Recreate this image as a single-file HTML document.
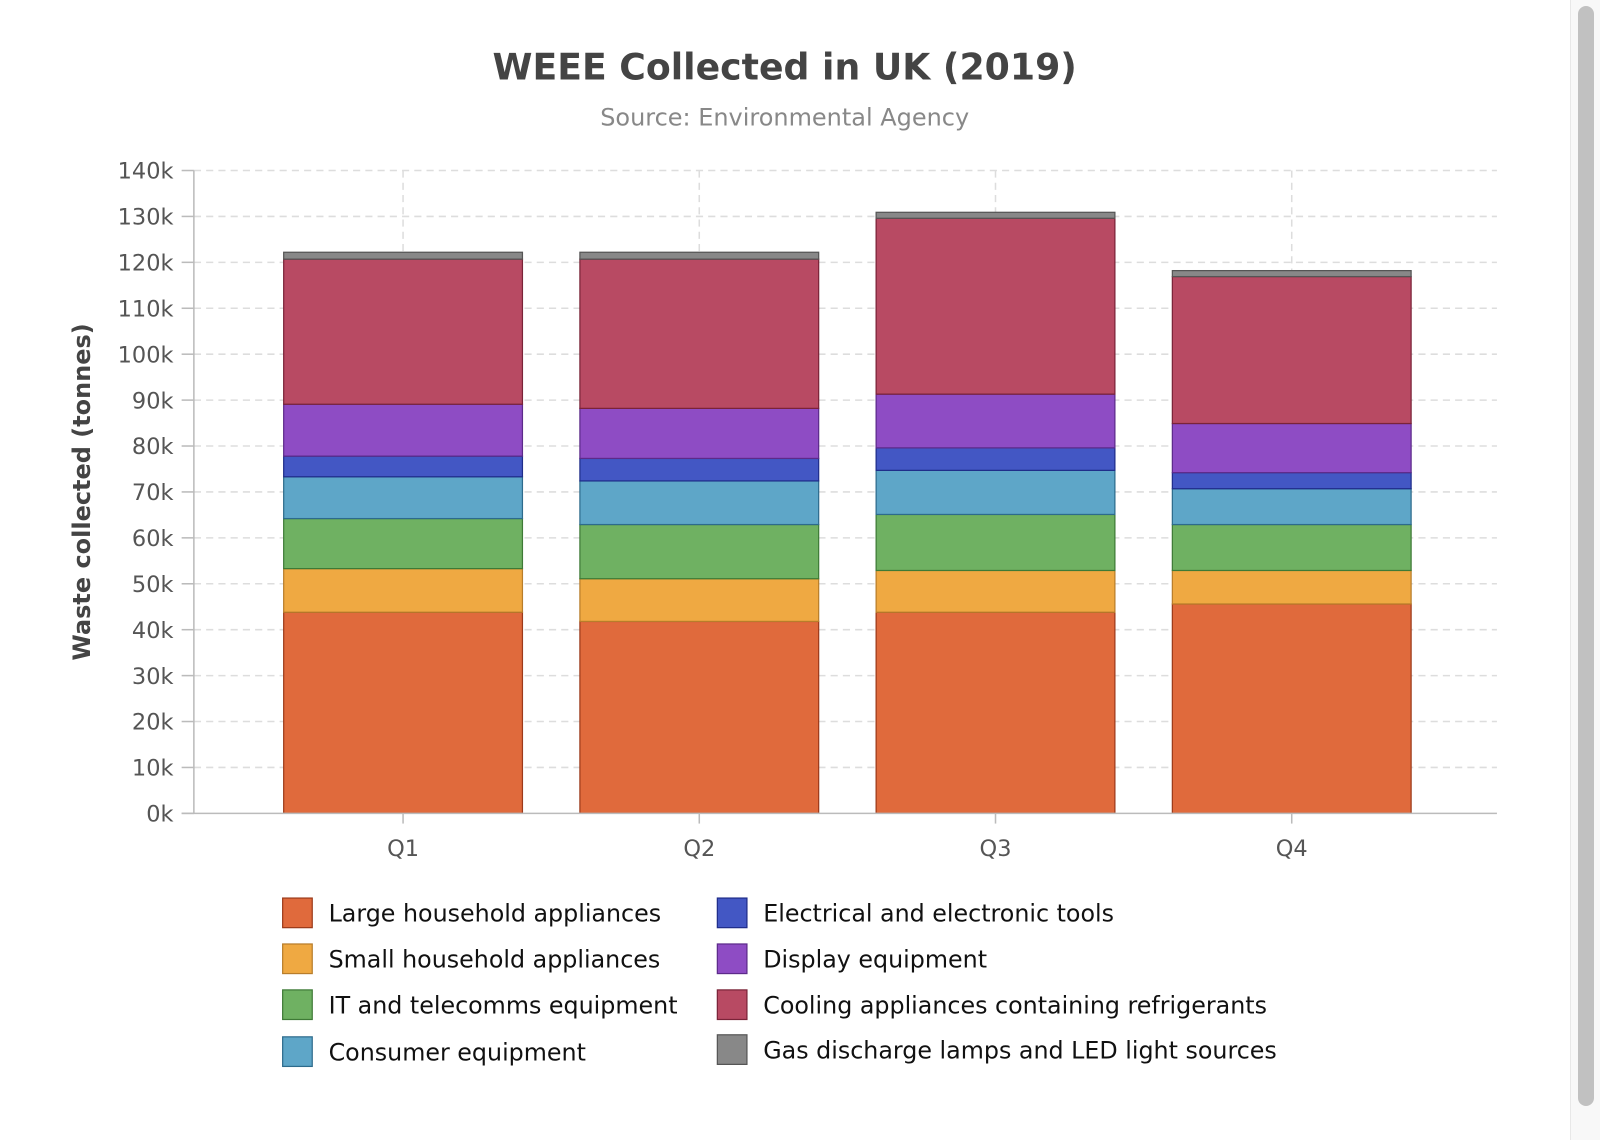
<!DOCTYPE html>
<html><head><meta charset="utf-8">
<style>
body{margin:0;width:1600px;height:1140px;background:#fff;overflow:hidden;font-family:"DejaVu Sans","Liberation Sans",sans-serif;position:relative}
#sb{position:absolute;left:1570px;top:0;width:30px;height:1140px;background:#f8f8f8;border-left:1px solid #e8e8e8}
#thumb{position:absolute;left:1578px;top:6px;width:16px;height:1100px;background:#c1c1c1;border-radius:8px}
svg text{font-family:"DejaVu Sans","Liberation Sans",sans-serif}
</style></head><body>
<div id="sb"></div>
<div id="thumb"></div>
<svg id="chart" width="1600" height="1140" viewBox="0 0 1568 1117" style="position:absolute;left:0;top:0">
<text x="769" y="78" text-anchor="middle" font-size="35.5" font-weight="bold" fill="#444">WEEE Collected in UK (2019)</text>
<text x="769" y="123" text-anchor="middle" font-size="23.5" fill="#888">Source: Environmental Agency</text>
<text transform="translate(88,482) rotate(-90)" text-anchor="middle" font-size="23.5" font-weight="bold" fill="#444">Waste collected (tonnes)</text>
<g id="grid"></g><g id="bars"></g><g id="axes"></g><g id="legend"></g>
</svg>
<script>
const categories=["Q1","Q2","Q3","Q4"];
const seriesNames=["Large household appliances","Small household appliances","IT and telecomms equipment","Consumer equipment","Electrical and electronic tools","Display equipment","Cooling appliances containing refrigerants","Gas discharge lamps and LED light sources"];
const large=[43.8,41.8,43.8,45.6];
const small=[9.5,9.3,9.1,7.3];
const it=[10.9,11.8,12.2,10.0];
const consumer=[9.1,9.5,9.6,7.8];
const tools=[4.5,4.9,4.9,3.5];
const display=[11.3,10.9,11.7,10.7];
const cooling=[31.6,32.5,38.3,32.0];
const gas=[1.5,1.5,1.3,1.3];
const yTicks=[0,10,20,30,40,50,60,70,80,90,100,110,120,130,140];
const series=[large,small,it,consumer,tools,display,cooling,gas];
const colors=["#e06a3c","#efa942","#6fb162","#5ea6c8","#4357c4","#8e4cc4","#b84a63","#888888"];
const strokes=["#9c3a1a","#b87d2a","#3e7a36","#2d6b8c","#1f2d8a","#5c2a8a","#7a2338","#555555"];
const NS="http://www.w3.org/2000/svg";
const y=v=>797-v*4.5;
const x=i=>395+i*290.3;
function mk(t,a,p){const e=document.createElementNS(NS,t);for(const k in a)e.setAttribute(k,a[k]);p.appendChild(e);return e;}
const G=document.getElementById('grid'),B=document.getElementById('bars'),A=document.getElementById('axes'),L=document.getElementById('legend');
yTicks.forEach(t=>{
 if(t>0){const l=mk('line',{x1:190,x2:1467,y1:y(t),y2:y(t),stroke:'#ddd','stroke-dasharray':'7,5','stroke-width':1.5},G);
 
 }
 mk('line',{x1:178,x2:190,y1:y(t),y2:y(t),stroke:'#bbb','stroke-width':1.5},A);
 const tx=mk('text',{x:170,y:y(t)+8,'text-anchor':'end','font-size':22,fill:'#555'},A);tx.textContent=t+'k';
 
 
});
categories.forEach((c,i)=>{
 const l=mk('line',{x1:x(i),x2:x(i),y1:167,y2:797,stroke:'#ddd','stroke-dasharray':'7,5','stroke-width':1.5},G);
 
 
 mk('line',{x1:x(i),x2:x(i),y1:797,y2:807,stroke:'#bbb','stroke-width':1.5},A);
 const tx=mk('text',{x:x(i),y:839,'text-anchor':'middle','font-size':22,fill:'#555'},A);tx.textContent=c;
 
 
 let acc=0;
 series.forEach((s,k)=>{
  const v=s[i];
  const r=mk('rect',{x:x(i)-117,y:y(acc+v),width:234,height:v*4.5,fill:colors[k],stroke:strokes[k],'stroke-width':1.2},B);
  
  
  acc+=v;
 });
});
mk('line',{x1:190,x2:190,y1:167,y2:797,stroke:'#bbb','stroke-width':1.5},A);
mk('line',{x1:178,x2:1467,y1:797,y2:797,stroke:'#bbb','stroke-width':1.5},A);
seriesNames.forEach((n,k)=>{
 const col=k<4?0:1,row=k%4;
 const lx=col?703:277,ly=[880,925,970,1016][row]+(col&&row==3?-2:0);
 const g=mk('g',{},L);
 
 
 mk('rect',{x:lx,y:ly,width:29,height:29,fill:colors[k],stroke:strokes[k],'stroke-width':1.2},g);
 const t=mk('text',{x:lx+45,y:ly+23,'font-size':23.3,fill:'#111'},g);t.textContent=n;
});
</script>
</body></html>
